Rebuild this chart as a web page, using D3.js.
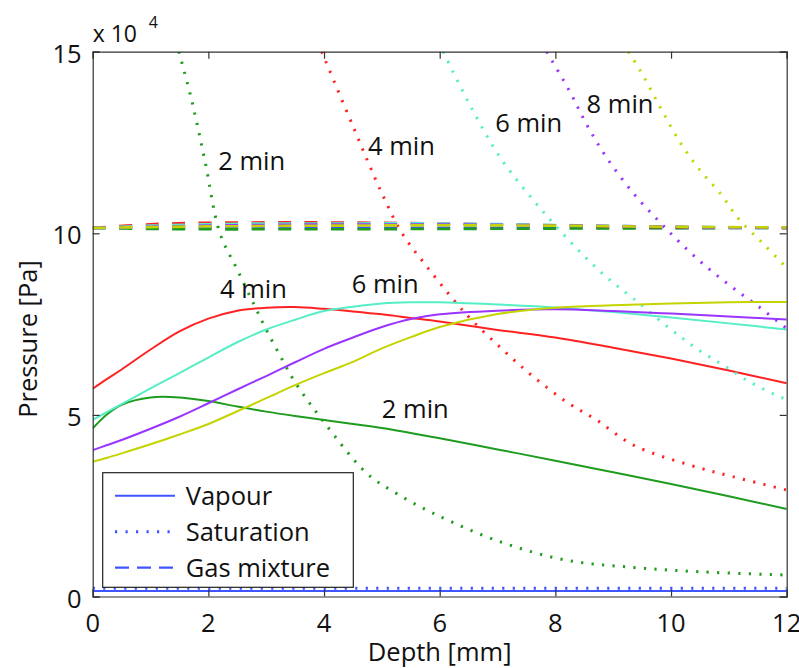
<!DOCTYPE html>
<html>
  <head>
    <meta charset="utf-8">
    <title>Pressure vs depth</title>
    <script src="https://d3js.org/d3.v7.min.js"></script>
    <style>
      body { margin: 0; background: #fff; }
      text { font-family: "Open Sans", "DejaVu Sans", sans-serif; fill: #111; }
    </style>
  </head>
  <body>
    <div id="graph"></div>
  </body>

  <script>
    // Values are in units of 1e4 Pa, depth in mm
    const times = ["0 min", "2 min", "4 min", "6 min", "8 min", "10 min"];
    const colors = ["#3f55ff", "#1f9c1f", "#ff2222", "#55eec6", "#9a35ff", "#c4d400"];

    // Vapour pressure (solid lines)
    const vapour_depth = [0, 0.25, 0.5, 1, 1.5, 2, 2.5, 3, 3.5, 4, 4.5, 5, 5.5, 6, 7, 8, 9, 10, 11, 12];
    const vapour_0 = [0.15, 0.15, 0.15, 0.15, 0.15, 0.15, 0.15, 0.15, 0.15, 0.15, 0.15, 0.15, 0.15, 0.15, 0.15, 0.15, 0.15, 0.15, 0.15, 0.15];
    const vapour_2 = [4.63, 5.02, 5.28, 5.48, 5.48, 5.38, 5.23, 5.09, 4.97, 4.86, 4.75, 4.64, 4.50, 4.36, 4.05, 3.74, 3.42, 3.10, 2.76, 2.41];
    const vapour_4 = [5.72, 5.99, 6.25, 6.80, 7.30, 7.65, 7.87, 7.95, 7.97, 7.92, 7.85, 7.77, 7.67, 7.57, 7.34, 7.13, 6.85, 6.55, 6.22, 5.87];
    const vapour_6 = [4.86, 5.08, 5.30, 5.73, 6.15, 6.58, 7.00, 7.35, 7.62, 7.86, 7.98, 8.07, 8.10, 8.10, 8.04, 7.96, 7.83, 7.68, 7.52, 7.35];
    const vapour_8 = [4.03, 4.17, 4.31, 4.62, 4.95, 5.32, 5.70, 6.07, 6.45, 6.82, 7.13, 7.42, 7.64, 7.77, 7.87, 7.91, 7.86, 7.79, 7.71, 7.63];
    const vapour_10 = [3.71, 3.82, 3.94, 4.19, 4.46, 4.75, 5.10, 5.46, 5.82, 6.15, 6.46, 6.83, 7.14, 7.42, 7.78, 7.95, 8.02, 8.07, 8.10, 8.11];

    // Saturation pressure (dotted lines), each read at its own depths
    const sat_depth_0 = [0, 12];
    const sat_0 = [0.23, 0.23];
    const sat_depth_2 = [1.49, 1.71, 1.94, 2.2, 2.5, 2.8, 3.0, 3.25, 3.5, 4.0, 4.74, 5.25, 5.89, 7.04, 8.19, 9.35, 10.5, 12];
    const sat_2 = [15, 13.67, 12.0, 10.0, 9.0, 8.0, 7.35, 6.6, 5.9, 4.8, 3.39, 2.84, 2.29, 1.51, 1.0, 0.80, 0.68, 0.59];
    const sat_depth_4 = [3.96, 4.5, 5.0, 5.35, 5.77, 6.25, 6.55, 7.1, 7.62, 8.19, 8.71, 9.35, 10.32, 11.07, 12];
    const sat_4 = [15, 12.95, 11.1, 10.0, 9.1, 8.15, 7.62, 6.78, 6.05, 5.36, 4.86, 4.17, 3.62, 3.30, 2.93];
    const sat_depth_6 = [6.06, 6.5, 7.04, 7.62, 8.02, 8.45, 8.88, 9.35, 9.98, 10.44, 10.9, 11.36, 11.88, 12];
    const sat_6 = [15, 13.6, 12.1, 10.91, 10.18, 9.45, 8.80, 8.20, 7.38, 6.83, 6.37, 5.91, 5.50, 5.43];
    const sat_depth_8 = [7.85, 8.25, 8.54, 8.88, 9.35, 9.81, 10.17, 10.61, 11.07, 11.54, 12];
    const sat_8 = [15, 13.9, 13.0, 12.1, 11.1, 10.3, 9.72, 9.08, 8.50, 7.95, 7.38];
    const sat_depth_10 = [9.26, 9.46, 9.81, 10.17, 10.5, 10.85, 11.19, 11.59, 12];
    const sat_10 = [15, 14.5, 13.48, 12.47, 11.74, 11.10, 10.36, 9.72, 9.05];

    // Gas mixture pressure (dashed lines)
    const gas_depth = [0, 1, 2, 3, 4, 6, 8, 10, 12];
    const gas_0 = [10.15, 10.15, 10.15, 10.15, 10.15, 10.15, 10.15, 10.15, 10.15];
    const gas_2 = [10.15, 10.12, 10.11, 10.11, 10.11, 10.12, 10.13, 10.14, 10.15];
    const gas_4 = [10.15, 10.25, 10.29, 10.30, 10.30, 10.27, 10.22, 10.17, 10.15];
    const gas_6 = [10.15, 10.21, 10.25, 10.27, 10.27, 10.27, 10.23, 10.18, 10.15];
    const gas_8 = [10.15, 10.18, 10.21, 10.23, 10.24, 10.24, 10.22, 10.18, 10.15];
    const gas_10 = [10.15, 10.17, 10.19, 10.20, 10.21, 10.22, 10.21, 10.18, 10.16];

    const x_ticks = [0, 2, 4, 6, 8, 10, 12];
    const y_ticks = [0, 5, 10, 15];
    const legend_labels = ["Vapour", "Saturation", "Gas mixture"];

    // Curve labels: text, depth, pressure (anchor at start of text baseline)
    const curve_labels = [
      ["2 min", 2.17, 11.74], ["4 min", 4.76, 12.16], ["6 min", 6.96, 12.80], ["8 min", 8.54, 13.30],
      ["4 min", 2.20, 8.23], ["6 min", 4.48, 8.35], ["2 min", 5.00, 4.91]
    ];

    const width = 799;
    const height = 668;
    const margin = ({top: 51.7, right: 12.3, bottom: 71.5, left: 92.7});
    const font_size = 25.5;

    let svg = d3.select("#graph").append("svg")
      .attr("width", width)
      .attr("height", height);

    let x = d3.scaleLinear().domain([0, 12]).range([margin.left, width - margin.right]);
    let y = d3.scaleLinear().domain([0, 15]).range([height - margin.bottom, margin.top]);

    svg.append("defs").append("clipPath").attr("id", "plot_clip")
      .append("rect")
      .attr("x", x(0)).attr("y", y(15))
      .attr("width", x(12) - x(0)).attr("height", y(0) - y(15));

    const zip = (xs, ys) => xs.map((d, i) => [d, ys[i]]);
    const series = [
      {vapour: vapour_0, sat: zip(sat_depth_0, sat_0), gas: gas_0},
      {vapour: vapour_2, sat: zip(sat_depth_2, sat_2), gas: gas_2},
      {vapour: vapour_4, sat: zip(sat_depth_4, sat_4), gas: gas_4},
      {vapour: vapour_6, sat: zip(sat_depth_6, sat_6), gas: gas_6},
      {vapour: vapour_8, sat: zip(sat_depth_8, sat_8), gas: gas_8},
      {vapour: vapour_10, sat: zip(sat_depth_10, sat_10), gas: gas_10}
    ];

    let line = d3.line()
      .x(d => x(d[0]))
      .y(d => y(d[1]))
      .curve(d3.curveCatmullRom.alpha(0.5));

    let plot = svg.append("g").attr("clip-path", "url(#plot_clip)");

    // Draw in order of time, each time with its three kinds of line
    series.forEach(function(s, i) {
      plot.append("path")
        .attr("d", line(zip(vapour_depth, s.vapour)))
        .attr("fill", "none")
        .attr("stroke", colors[i])
        .attr("stroke-width", 2);
      plot.append("path")
        .attr("d", line(s.sat))
        .attr("fill", "none")
        .attr("stroke", colors[i])
        .attr("stroke-width", 3)
        .attr("stroke-dasharray", "2.2,8.3");
      plot.append("path")
        .attr("d", line(zip(gas_depth, s.gas)))
        .attr("fill", "none")
        .attr("stroke", colors[i])
        .attr("stroke-width", 2.6)
        .attr("stroke-dasharray", "13,13.5");
    });

    // Axes box with inward ticks
    const tick_len = 7;
    let x_axis_bottom = d3.axisBottom(x).tickValues(x_ticks).tickSize(-tick_len).tickFormat("");
    let x_axis_top = d3.axisTop(x).tickValues(x_ticks).tickSize(-tick_len).tickFormat("");
    let y_axis_left = d3.axisLeft(y).tickValues(y_ticks).tickSize(-tick_len).tickFormat("");
    let y_axis_right = d3.axisRight(y).tickValues(y_ticks).tickSize(-tick_len).tickFormat("");
    svg.append("g").attr("transform", `translate(0, ${y(0)})`).call(x_axis_bottom);
    svg.append("g").attr("transform", `translate(0, ${y(15)})`).call(x_axis_top);
    svg.append("g").attr("transform", `translate(${x(0)}, 0)`).call(y_axis_left);
    svg.append("g").attr("transform", `translate(${x(12)}, 0)`).call(y_axis_right);
    svg.selectAll(".domain").attr("stroke", "#333").attr("stroke-width", 1.2);
    svg.selectAll(".tick line").attr("stroke", "#333").attr("stroke-width", 1.2);

    // Tick labels
    svg.selectAll(".x_label").data(x_ticks).enter()
      .append("text")
      .attr("x", d => x(d))
      .attr("y", y(0) + 35)
      .style("text-anchor", "middle")
      .style("font-size", font_size + "px")
      .text(d => d);
    svg.selectAll(".y_label").data(y_ticks).enter()
      .append("text")
      .attr("x", x(0) - 11)
      .attr("y", d => y(d) + 11)
      .style("text-anchor", "end")
      .style("font-size", font_size + "px")
      .text(d => d);

    // Exponent note
    svg.append("text")
      .attr("x", x(0))
      .attr("y", 41.5)
      .style("font-size", "23px")
      .text("x 10");
    svg.append("text")
      .attr("x", x(0) + 56)
      .attr("y", 28)
      .style("font-size", "16px")
      .text("4");

    // Axis titles
    svg.append("text")
      .attr("x", (x(0) + x(12)) / 2)
      .attr("y", 661)
      .style("text-anchor", "middle")
      .style("font-size", font_size + "px")
      .text("Depth [mm]");
    svg.append("text")
      .attr("transform", "translate(37, 339) rotate(-90)")
      .style("text-anchor", "middle")
      .style("font-size", font_size + "px")
      .text("Pressure [Pa]");

    // Curve labels
    svg.selectAll(".curve_label").data(curve_labels).enter()
      .append("text")
      .attr("x", d => x(d[1]))
      .attr("y", d => y(d[2]))
      .style("font-size", font_size + "px")
      .text(d => d[0]);

    // Legend
    let legend = svg.append("g");
    legend.append("rect")
      .attr("x", 102.7).attr("y", 472.7)
      .attr("width", 250.6).attr("height", 114.6)
      .attr("fill", "#fff")
      .attr("stroke", "#222")
      .attr("stroke-width", 1.2);
    const legend_dash = [null, "2.2,8.3", "14,8"];
    const legend_width = [2, 3, 2.2];
    legend_labels.forEach(function(label, i) {
      const ly = 495.7 + i * 36;
      legend.append("line")
        .attr("x1", 115).attr("x2", 175)
        .attr("y1", ly).attr("y2", ly)
        .attr("stroke", colors[0])
        .attr("stroke-width", legend_width[i])
        .attr("stroke-dasharray", legend_dash[i]);
      legend.append("text")
        .attr("x", 185.7)
        .attr("y", ly + 9)
        .style("font-size", font_size + "px")
        .text(label);
    });
  </script>
</html>
